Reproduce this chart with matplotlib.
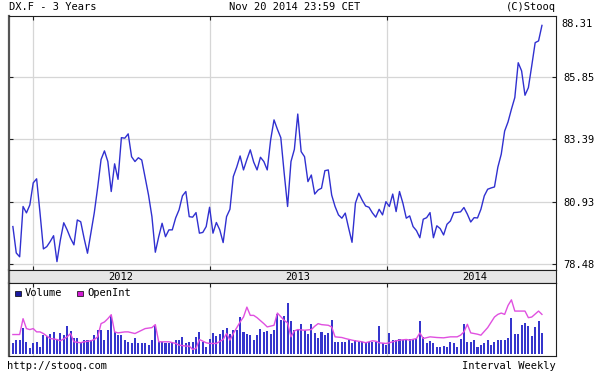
import matplotlib
matplotlib.use("Agg")
import matplotlib.pyplot as plt
from matplotlib.patches import Rectangle
import numpy as np
import pandas as pd

# weekly data, first week
start_date = "2011-11-21"

price = [79.96, 78.92, 78.77, 80.75, 80.50, 80.81, 81.68, 81.84, 80.50, 79.08,
         79.17, 79.37, 79.60, 78.58, 79.43, 80.11, 79.83, 79.50, 79.24, 80.22,
         80.15, 79.50, 78.91, 79.70, 80.50, 81.50, 82.60, 82.94, 82.52, 81.34,
         82.43, 81.82, 83.46, 83.44, 83.61, 82.71, 82.52, 82.67, 82.58, 81.90,
         81.20, 80.35, 78.95, 79.56, 80.09, 79.56, 79.83, 79.83, 80.30, 80.62,
         81.17, 81.34, 80.35, 80.33, 80.51, 79.70, 79.73, 79.96, 80.72, 79.70,
         80.12, 79.83, 79.33, 80.35, 80.64, 81.93, 82.30, 82.74, 82.19, 82.60,
         82.98, 82.50, 82.19, 82.69, 82.52, 82.19, 83.37, 84.16, 83.79, 83.46,
         82.06, 80.75, 82.52, 83.00, 84.39, 82.91, 82.71, 81.73, 81.99, 81.24,
         81.40, 81.47, 82.16, 82.19, 81.20, 80.75, 80.42, 80.29, 80.49, 79.90,
         79.34, 80.88, 81.27, 81.00, 80.77, 80.72, 80.50, 80.33, 80.64, 80.42,
         80.94, 80.75, 81.24, 80.55, 81.34, 80.88, 80.29, 80.38, 79.96, 79.80,
         79.52, 80.25, 80.31, 80.51, 79.52, 79.99, 79.88, 79.63, 80.05, 80.18,
         80.51, 80.52, 80.54, 80.71, 80.45, 80.14, 80.31, 80.30, 80.64, 81.17,
         81.43, 81.48, 81.52, 82.30, 82.81, 83.72, 84.08, 84.58, 85.04, 86.41,
         86.09, 85.13, 85.43, 86.30, 87.20, 87.27, 87.88]

volume = [33, 43, 43, 81, 38, 18, 33, 38, 23, 58, 55, 63, 68, 45, 65, 58, 85, 71,
          51, 51, 38, 43, 43, 43, 60, 75, 73, 43, 73, 115, 68, 58, 58, 43, 38, 35,
          48, 33, 33, 33, 28, 43, 88, 38, 38, 33, 33, 38, 43, 43, 53, 33, 38, 38,
          53, 68, 38, 21, 45, 65, 55, 63, 75, 81, 63, 75, 73, 113, 68, 63, 58, 43,
          58, 78, 68, 71, 63, 75, 121, 103, 115, 155, 101, 75, 73, 91, 73, 63, 91,
          65, 48, 68, 60, 65, 103, 38, 38, 38, 38, 43, 33, 43, 38, 38, 33, 38, 38,
          38, 85, 33, 28, 65, 43, 43, 45, 43, 43, 45, 45, 45, 101, 53, 33, 41, 35,
          23, 23, 25, 23, 38, 33, 21, 45, 93, 38, 38, 43, 23, 28, 35, 43, 28, 38,
          43, 43, 43, 48, 111, 61, 61, 90, 96, 85, 55, 83, 100, 65]

oi_weeks = [0, 2, 3, 4, 5, 6, 7, 8, 9, 11, 13, 14, 16, 17, 18, 20, 21, 23, 24, 25,
            26, 27, 28, 29, 30, 31, 33, 34, 36, 37, 39, 41, 42, 43, 45, 46, 48, 49,
            51, 52, 53, 54, 55, 57, 58, 60, 62, 63, 64, 65, 67, 68, 69, 70, 71, 72,
            74, 75, 77, 78, 79, 80, 81, 82, 83, 84, 86, 88, 89, 90, 91, 93, 94, 95,
            97, 98, 100, 101, 103, 104, 105, 106, 107, 108, 110, 111, 113, 114, 116,
            117, 119, 120, 121, 123, 125, 127, 129, 131, 132, 133, 134, 135, 136,
            137, 138, 140, 142, 143, 144, 145, 146, 147, 148, 149, 151, 152, 153,
            155, 156]
oi_values = [60, 60, 108, 78, 75, 78, 68, 68, 63, 48, 45, 41, 53, 63, 38, 35, 38,
             41, 45, 53, 93, 98, 108, 120, 68, 65, 68, 68, 63, 68, 78, 81, 90, 38,
             38, 38, 33, 28, 25, 25, 15, 18, 45, 35, 33, 33, 45, 63, 43, 63, 98,
             113, 143, 118, 118, 111, 93, 83, 88, 125, 114, 103, 95, 53, 71, 75, 73,
             75, 85, 93, 90, 88, 83, 53, 51, 48, 43, 41, 38, 35, 38, 41, 40, 35, 33,
             35, 41, 43, 45, 43, 48, 65, 48, 53, 51, 50, 53, 53, 58, 68, 91, 65, 63,
             61, 58, 81, 113, 121, 125, 121, 148, 165, 131, 131, 131, 111, 113, 131,
             121]

price_ticks = [78.48, 80.93, 83.39, 85.85]
top_label = "88.31"
year_lines = ["2012-01-01", "2013-01-01", "2014-01-01"]
year_labels = ["2012", "2013", "2014"]

W, H = 595, 372
def box(l, t, r, b):
    return [l / W, 1 - b / H, (r - l) / W, (b - t) / H]

t0 = pd.Timestamp(start_date)
dates = t0 + pd.to_timedelta(np.arange(len(price)) * 7, unit="D")
oi_dates = t0 + pd.to_timedelta(np.array(oi_weeks) * 7, unit="D")
ylines = pd.to_datetime(year_lines)
ymid = ylines + pd.Timedelta(days=182)
xlim = (pd.Timestamp("2011-11-13"), pd.Timestamp("2014-12-16"))

plt.rcParams["font.family"] = "DejaVu Sans Mono"
plt.rcParams["font.size"] = 7.5
grid_c = "#d6d6d6"
dark = "#202020"

fig = plt.figure(figsize=(5.95, 3.72), dpi=100)
fig.patch.set_facecolor("white")

def frame(a):
    for s in a.spines.values():
        s.set_color(dark)
        s.set_linewidth(0.8)
    a.spines["left"].set_color("#555555")
    a.spines["left"].set_linewidth(1.6)

# price panel
ax = fig.add_axes(box(9, 16, 556, 270))
ax.plot(dates, price, color="#3030d0", lw=1.0)
ax.set_xlim(xlim)
ax.set_ylim(78.25, 88.25)
ax.set_yticks(price_ticks)
ax.set_yticklabels([f"{v:.2f}" for v in price_ticks])
ax.set_xticks(ylines)
ax.set_xticklabels([])
ax.tick_params(axis="y", left=True, right=True, labelleft=False, labelright=True,
               direction="in", length=3, color=dark, pad=5, labelsize=7.5)
ax.tick_params(axis="x", top=True, bottom=True, direction="in", length=3, color=dark)
ax.grid(True, color=grid_c, lw=0.9)
ax.set_axisbelow(True)
frame(ax)
fig.text(561 / W, 1 - 24 / H, top_label, ha="left", va="center", fontsize=7.5)

# date strip
strip = fig.add_axes(box(9, 270, 556, 283))
strip.set_facecolor("#e6e6e6")
strip.set_xlim(xlim)
strip.set_ylim(0, 1)
strip.set_xticks([])
strip.set_yticks([])
for d, lab in zip(ymid, year_labels):
    strip.text(d, 0.45, lab, ha="center", va="center", fontsize=7.5)
frame(strip)

# volume / open interest panel
axv = fig.add_axes(box(9, 283, 556, 356))
axv.bar(dates, volume, width=4.2, color="#3535cc", linewidth=0)
axv.plot(oi_dates, oi_values, color="#e050e0", lw=1.0)
axv.set_xlim(xlim)
axv.set_ylim(-5, 216)
axv.set_yticks([])
axv.set_xticks(ylines)
axv.set_xticklabels([])
axv.tick_params(axis="x", top=True, bottom=False, direction="in", length=3, color=dark)
axv.grid(True, axis="x", color=grid_c, lw=0.9)
axv.set_axisbelow(True)
frame(axv)

# legend
fig.add_artist(Rectangle((15 / W, 1 - 296 / H), 6 / W, 5.5 / H, transform=fig.transFigure,
                         facecolor="#1a1aa0", edgecolor="#000000", lw=0.5))
fig.text(25 / W, 1 - 293.5 / H, "Volume", ha="left", va="center")
fig.add_artist(Rectangle((77 / W, 1 - 296 / H), 6 / W, 5.5 / H, transform=fig.transFigure,
                         facecolor="#d21ad2", edgecolor="#000000", lw=0.5))
fig.text(87 / W, 1 - 293.5 / H, "OpenInt", ha="left", va="center")

# header and footer
fig.text(9 / W, 1 - 7 / H, "DX.F - 3 Years", ha="left", va="center")
fig.text(295 / W, 1 - 7 / H, "Nov 20 2014 23:59 CET", ha="center", va="center")
fig.text(556 / W, 1 - 7 / H, "(C)Stooq", ha="right", va="center")
fig.text(7 / W, 1 - 366 / H, "http://stooq.com", ha="left", va="center")
fig.text(556 / W, 1 - 366 / H, "Interval Weekly", ha="right", va="center")

fig.savefig("out.png", dpi=100, facecolor="white")
